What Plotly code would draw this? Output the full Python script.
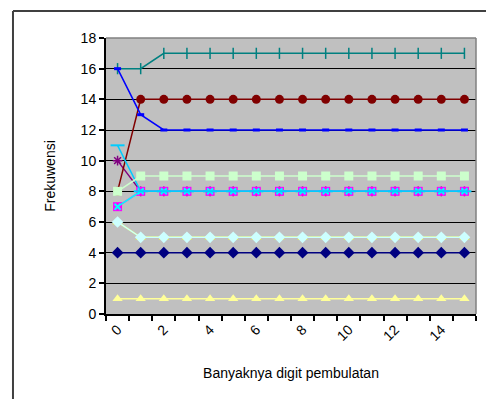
import plotly.graph_objects as go

categories = list(range(16))
tick_labels = ["0", "2", "4", "6", "8", "10", "12", "14"]
tick_positions = [0, 2, 4, 6, 8, 10, 12, 14]

s_navy = [4] * 16
s_magenta = [7] + [8] * 15
s_yellow = [6] + [5] * 15
s_cyan = [7] + [8] * 15
s_purple = [10] + [8] * 15
s_darkred = [8] + [14] * 15
s_teal = [16, 16] + [17] * 14
s_blue = [16, 13] + [12] * 14
s_skyblue = [11] + [8] * 15
s_lightcyan = [6] + [5] * 15
s_lightgreen = [8] + [9] * 15
s_lightyellow = [1] * 16

series = [
    (s_navy, "#000080", "diamond", 9, None),
    (s_purple, "#800080", "asterisk-open", 8, 1.5),
    (s_magenta, "#FF00FF", "square", 9, None),
    (s_yellow, "#FFFF00", "triangle-up", 9, None),
    (s_cyan, "#00FFFF", "x-thin-open", 6, 2),
    (s_darkred, "#800000", "circle", 9, None),
    (s_teal, "#008080", "line-ns-open", 8, 1.5),
    (s_blue, "#0000FF", "line-ew-open", 5, 3),
    (s_skyblue, "#00CCFF", "line-ew-open", 10, 2),
    (s_lightcyan, "#CCFFFF", "diamond", 9, None),
    (s_lightgreen, "#CCFFCC", "square", 9, None),
    (s_lightyellow, "#FFFF99", "triangle-up", 9, None),
]

fig = go.Figure()
for vals, color, sym, size, lw in series:
    marker = dict(symbol=sym, size=size, color=color)
    if lw is not None:
        marker["line"] = dict(color=color, width=lw)
    else:
        marker["line"] = dict(width=0)
    fig.add_trace(go.Scatter(
        x=categories, y=vals, mode="lines+markers",
        line=dict(color=color, width=1.5),
        marker=marker, showlegend=False, hoverinfo="skip",
    ))

font = dict(family="Liberation Sans, Arial, sans-serif", size=14, color="black")

fig.update_layout(
    width=486, height=399,
    margin=dict(l=106, r=10, t=38, b=85),
    paper_bgcolor="white",
    plot_bgcolor="#C0C0C0",
    font=font,
    xaxis=dict(
        range=[-0.5, 15.5],
        tickmode="array", tickvals=tick_positions, ticktext=tick_labels,
        tickangle=-45, ticks="", showgrid=False, zeroline=False,
        showline=True, linecolor="black", linewidth=2,
        minor=dict(tickmode="array", tickvals=[i - 0.5 for i in range(17)],
                   ticks="outside", ticklen=5, tickcolor="black", tickwidth=1.5,
                   showgrid=False),
        title=dict(text="Banyaknya digit pembulatan", standoff=25, font=font),
        automargin=False,
        fixedrange=True,
    ),
    yaxis=dict(
        range=[0, 18], tickmode="linear", tick0=0, dtick=2,
        ticks="outside", ticklen=5, tickcolor="black", tickwidth=1.5,
        showgrid=True, gridcolor="black", gridwidth=1, zeroline=False,
        showline=True, linecolor="black", linewidth=2,
        title=dict(text="Frekuwensi", standoff=22, font=font),
        automargin=False,
        fixedrange=True,
    ),
    shapes=[
        dict(type="line", xref="paper", yref="paper", x0=0, x1=1, y0=1, y1=1,
             line=dict(color="#808080", width=1.5)),
        dict(type="line", xref="paper", yref="paper", x0=1, x1=1, y0=0, y1=1,
             line=dict(color="#808080", width=1.5)),
        dict(type="line", xref="paper", yref="paper", x0=-0.2514, x1=1.1,
             y0=1.0978, y1=1.0978, line=dict(color="#404040", width=2)),
        dict(type="line", xref="paper", yref="paper", x0=-0.2514, x1=-0.2514,
             y0=-0.4, y1=1.0978, line=dict(color="#404040", width=2)),
    ],
)

fig.write_html("out.html", config={"displayModeBar": False},
               post_script="document.body.style.margin='0';")
